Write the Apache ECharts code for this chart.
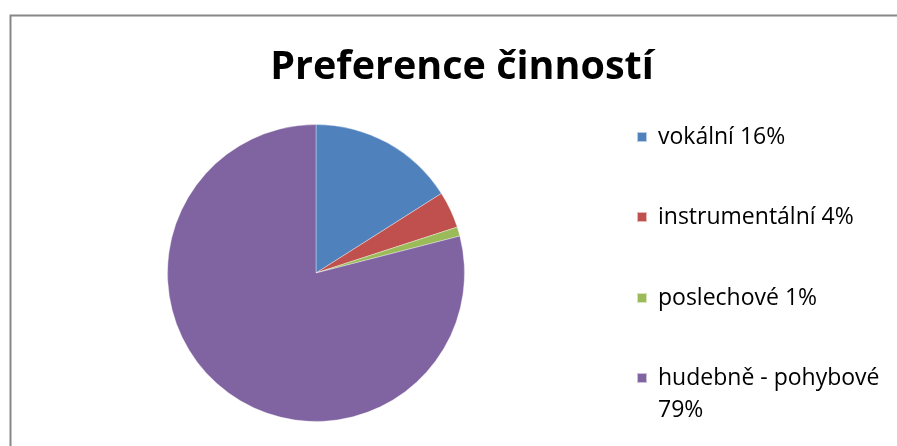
<!DOCTYPE html>
<html>
<head>
<meta charset="utf-8">
<script src="https://cdn.jsdelivr.net/npm/echarts@6/dist/echarts.min.js"></script>
<style>
	html,body{margin:0;padding:0;background:#fff;}
	#chart{width:897px;height:446px;}
</style>
</head>
<body>
<div id="chart"></div>
<script>
	// 数据
	var names = ['vokální', 'instrumentální', 'poslechové', 'hudebně - pohybové'];
	var values = [16, 4, 1, 79];
	var colors = ['#4F81BD', '#C0504D', '#9BBB59', '#8064A2'];
	// 图例中心的纵坐标
	var legendY = [137, 217, 298, 378];

	var total = values.reduce(function (a, b) { return a + b; }, 0);
	var fontName = '"Open Sans", sans-serif';

	var myChart = echarts.init(document.getElementById('chart'), null, {renderer: 'canvas'});

	function pct(name) {
		var v = values[names.indexOf(name)];
		return Math.round(v / total * 100) + '%';
	}

	var legends = names.map(function (n, i) {
		// 名称太长时换行，前面加空行让第一行和色块对齐
		var wrap = n.length > 15;
		return {
			orient: 'vertical',
			left: 636,
			top: wrap ? legendY[i] - 48 : legendY[i] - 16,
			padding: 0,
			data: [n],
			// 10px 色块，右边留空，文字离色块远一点
			icon: 'path://M0,0h10v10h-10zM16,10',
			symbolKeepAspect: false,
			itemWidth: 16,
			itemHeight: 10,
			selectedMode: false,
			formatter: function (name) {
				return wrap ? '\n' + name + '\n' + pct(name) : name + ' ' + pct(name);
			},
			textStyle: {
				fontFamily: fontName,
				fontSize: 23,
				color: '#000',
				lineHeight: 32
			}
		};
	});

	var option = {
		backgroundColor: '#fff',
		color: colors,
		animation: false,
		title: {
			text: 'Preference činností',
			left: 462,
			top: 48,
			textAlign: 'center',
			padding: 0,
			textStyle: {
				fontFamily: fontName,
				fontSize: 39.5,
				fontWeight: 'bold',
				color: '#000'
			}
		},
		legend: legends,
		graphic: [{
			type: 'rect',
			left: 8,
			top: 13,
			shape: {width: 920, height: 460},
			style: {fill: 'none', stroke: '#878787', lineWidth: 2},
			silent: true
		}],
		series: [{
			type: 'pie',
			center: [316, 273],
			radius: 148.5,
			startAngle: 90,
			clockwise: true,
			label: {show: false},
			labelLine: {show: false},
			emphasis: {disabled: true},
			itemStyle: {borderColor: 'rgba(255,255,255,0.6)', borderWidth: 0.6},
			data: names.map(function (n, i) {
				return {name: n, value: values[i]};
			})
		}]
	};
	// 使用刚指定的配置项和数据显示图表。
	myChart.setOption(option);
</script>
</body>
</html>
